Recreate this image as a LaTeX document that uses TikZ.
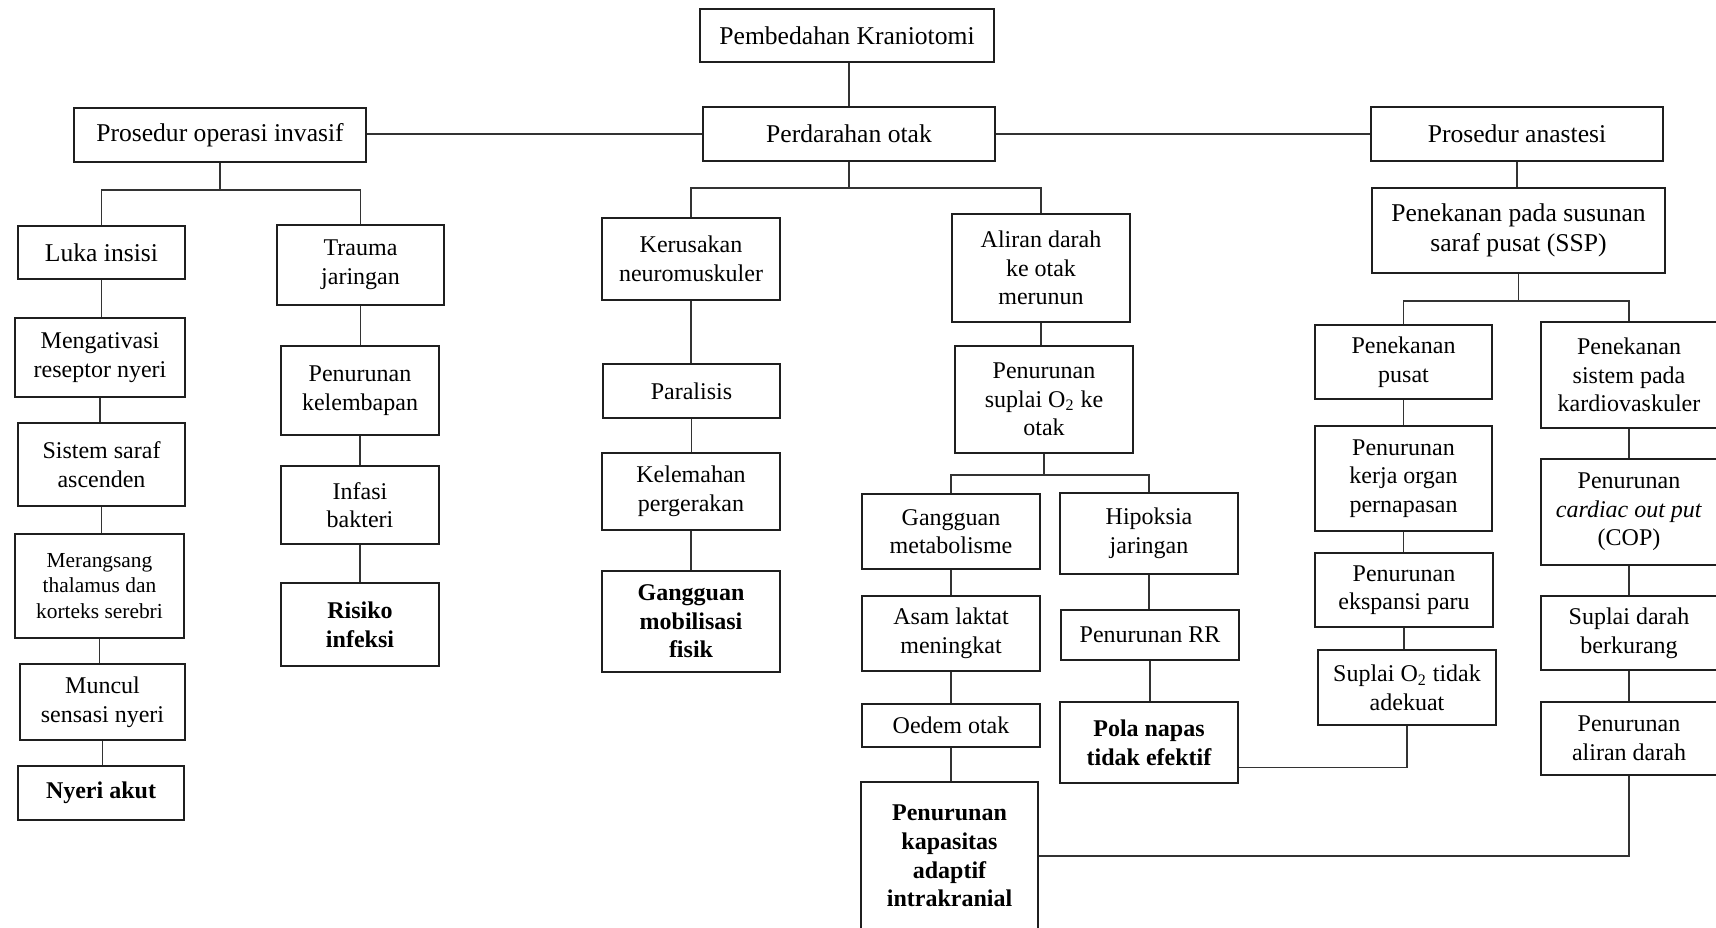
\documentclass[tikz,border=0pt]{standalone}
\usepackage{fontspec}
\setmainfont{Liberation Serif}
\usetikzlibrary{calc}
\tikzset{
  bx/.style={draw=black!88, line width=1.1pt, align=center, inner sep=0pt, text=black, font=\fontsize{12}{14.3}\selectfont},
  bb/.style={font=\fontsize{12}{14.3}\selectfont\bfseries},
  big/.style={font=\fontsize{12.8}{14.8}\selectfont},
  small/.style={font=\fontsize{10.7}{12.9}\selectfont},
  ln/.style={draw=black!80, line width=0.9pt},
}
\newcommand\mybox[7][]{%
  \node[bx,#1, minimum width={(#5-#3)*0.5pt}, minimum height={(#6-#4)*0.5pt}] (#2) at ({(#3+#5)/2},{(#4+#6)/2}) {#7};}
\newcommand\vlink[2]{\draw[ln] (#1.south) -- (#1.south |- #2.north);}
\begin{document}
\begin{tikzpicture}[x=0.5pt,y=-0.5pt]
\useasboundingbox (0,0) rectangle (1716,927);
\fill[white] (0,0) rectangle (1716,927);
\clip (0,0) rectangle (1716,927);
% top
\mybox[big]{pk}{700}{9}{994}{62}{Pembedahan Kraniotomi}
\mybox[big]{po}{703}{107}{995}{161}{Perdarahan otak}
\mybox[big]{poi}{74}{108}{366}{162}{Prosedur operasi invasif}
\mybox[big]{pa}{1371}{107}{1663}{161}{Prosedur anastesi}
% left
\mybox[big]{li}{18}{226}{185}{279}{Luka insisi}
\mybox{tj}{277}{225}{444}{305}{Trauma\\jaringan}
\mybox{mr}{15}{318}{185}{397}{Mengativasi\\reseptor nyeri}
\mybox{ss}{18}{423}{185}{506}{Sistem saraf\\ascenden}
\mybox[small]{mt}{15}{534}{184}{638}{Merangsang\\thalamus dan\\korteks serebri}
\mybox{mu}{20}{664}{185}{740}{Muncul\\sensasi nyeri}
\mybox[bb]{na}{18}{766}{184}{820}{Nyeri akut}
\mybox{kl}{281}{346}{439}{435}{Penurunan\\kelembapan}
\mybox{ib}{281}{466}{439}{544}{Infasi\\bakteri}
\mybox[bb]{ri}{281}{583}{439}{666}{Risiko\\infeksi}
% middle
\mybox{kn}{602}{218}{780}{300}{Kerusakan\\neuromuskuler}
\mybox{pl}{603}{364}{780}{418}{Paralisis}
\mybox{kp}{602}{453}{780}{530}{Kelemahan\\pergerakan}
\mybox[bb]{gm}{602}{571}{780}{672}{Gangguan\\mobilisasi\\fisik}
\mybox{ad}{952}{214}{1130}{322}{Aliran darah\\ke otak\\merunun}
\mybox{ps}{955}{346}{1133}{453}{Penurunan\\suplai O\textsubscript{2} ke\\otak}
\mybox{gme}{862}{494}{1040}{569}{Gangguan\\metabolisme}
\mybox{hj}{1060}{493}{1238}{574}{Hipoksia\\jaringan}
\mybox{al}{862}{596}{1040}{671}{Asam laktat\\meningkat}
\mybox{rr}{1061}{610}{1239}{660}{Penurunan RR}
\mybox{oo}{862}{704}{1040}{747}{Oedem otak}
\mybox[bb]{pn}{1060}{702}{1238}{783}{Pola napas\\tidak efektif}
\mybox[bb]{ka}{861}{782}{1038}{930}{Penurunan\\kapasitas\\adaptif\\intrakranial}
% right
\mybox[big]{ssp}{1372}{188}{1665}{273}{Penekanan pada susunan\\saraf pusat (SSP)}
\mybox{pp}{1315}{325}{1492}{399}{Penekanan\\pusat}
\mybox{kv}{1541}{322}{1717}{428}{Penekanan\\sistem pada\\kardiovaskuler}
\mybox{ko}{1315}{426}{1492}{531}{Penurunan\\kerja organ\\pernapasan}
\mybox{cop}{1541}{459}{1717}{565}{Penurunan\\\textit{cardiac out put}\\(COP)}
\mybox{ep}{1315}{553}{1493}{627}{Penurunan\\ekspansi paru}
\mybox{so}{1318}{650}{1496}{725}{Suplai O\textsubscript{2} tidak\\adekuat}
\mybox{sd}{1541}{596}{1717}{670}{Suplai darah\\berkurang}
\mybox{pad}{1541}{702}{1717}{775}{Penurunan\\aliran darah}
% connectors top
\draw[ln] (pk.south -| po.north) -- (po.north);
\draw[ln] (po.west) -- (po.west -| poi.east);
\draw[ln] (po.east) -- (po.east -| pa.west);
% left tree
\coordinate (jl) at ($(poi.south)+(0,27)$);
\draw[ln] (poi.south) -- (jl);
\draw[ln] (li.north) |- (jl) -| (tj.north);
\vlink{li}{mr}\vlink{mr}{ss}\vlink{ss}{mt}\vlink{mt}{mu}\vlink{mu}{na}
\vlink{tj}{kl}\vlink{kl}{ib}\vlink{ib}{ri}
% middle tree
\coordinate (jm) at ($(po.south)+(0,26)$);
\draw[ln] (po.south) -- (jm);
\draw[ln] (kn.north) |- (jm) -| (ad.north);
\vlink{kn}{pl}\vlink{pl}{kp}\vlink{kp}{gm}
\vlink{ad}{ps}
\coordinate (js) at ($(ps.south)+(0,21)$);
\draw[ln] (ps.south) -- (js);
\draw[ln] (gme.north) |- (js) -| (hj.north);
\vlink{gme}{al}\vlink{al}{oo}\vlink{oo}{ka}
\vlink{hj}{rr}\vlink{rr}{pn}
% right tree
\vlink{pa}{ssp}
\coordinate (jr) at ($(ssp.south)+(0,27)$);
\draw[ln] (ssp.south) -- (jr);
\draw[ln] (pp.north) |- (jr) -| (kv.north);
\vlink{pp}{ko}\vlink{ko}{ep}\vlink{ep}{so}
\vlink{kv}{cop}\vlink{cop}{sd}\vlink{sd}{pad}
% cross links
\coordinate (c1) at ($(pn.south east)!0.2!(pn.north east)$);
\draw[ln] (so.south) |- (c1);
\draw[ln] (pad.south) |- (ka.east);
\end{tikzpicture}
\end{document}
